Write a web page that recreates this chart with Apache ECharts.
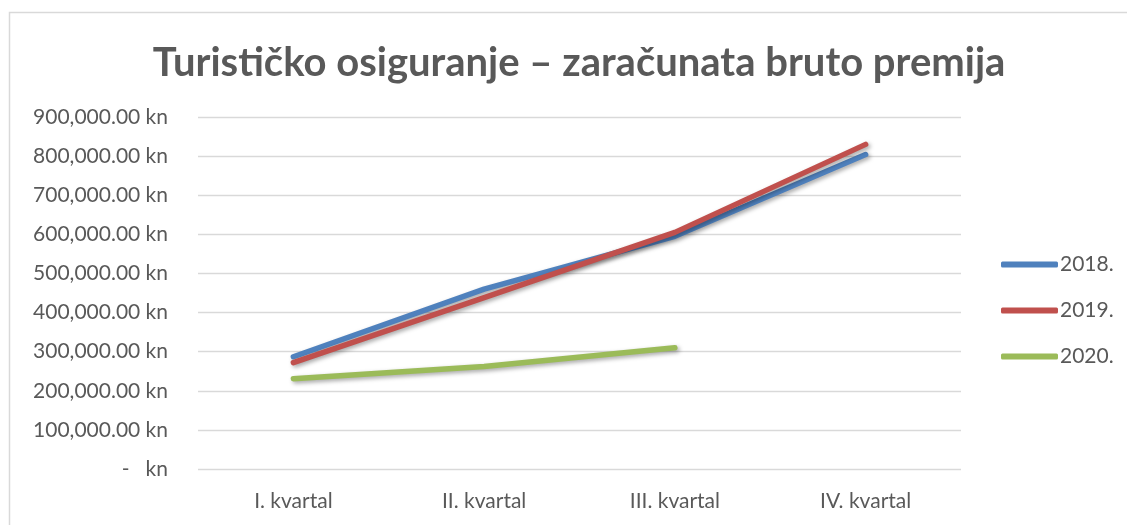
<!DOCTYPE html>
<html>
<head>
<meta charset="utf-8">
<script src="https://cdn.jsdelivr.net/npm/echarts@6/dist/echarts.min.js"></script>
<style>
    html, body { margin: 0; padding: 0; background: #fff; }
    #chart { width: 1127px; height: 525px; }
</style>
</head>
<body>
<div id="chart"></div>
<script>
// 数据
const categories = ['I. kvartal', 'II. kvartal', 'III. kvartal', 'IV. kvartal'];
const seriesNames = ['2018.', '2019.', '2020.'];
const values2018 = [287000, 460000, 595000, 804000];
const values2019 = [272000, 438000, 605000, 830000];
const values2020 = [231000, 262000, 310000];
const seriesColors = ['#4f81bd', '#c0504d', '#9bbb59'];

const textColor = '#595959';
const fontFamily = 'Lato, "Open Sans", sans-serif';

// 会计格式标签
function formatKn(value) {
    if (value === 0) return '-   kn';
    return value.toLocaleString('en-US', { minimumFractionDigits: 2, maximumFractionDigits: 2 }) + ' kn';
}

function makeSeries(name, data, color) {
    return {
        name: name,
        type: 'line',
        data: data,
        showSymbol: false,
        symbol: 'none',
        color: color,
        lineStyle: {
            width: 5.5,
            color: color,
            cap: 'round',
            join: 'round',
            shadowColor: 'rgba(0, 0, 0, 0.35)',
            shadowBlur: 4,
            shadowOffsetX: 2,
            shadowOffsetY: 2
        },
        emphasis: { disabled: true }
    };
}

const chart = echarts.init(document.getElementById('chart'));

const option = {
    animation: false,
    backgroundColor: '#fff',
    title: {
        text: 'Turističko osiguranje – zaračunata bruto premija',
        left: 574,
        textAlign: 'center',
        top: 38,
        textStyle: {
            color: textColor,
            fontSize: 40,
            fontWeight: 'bold',
            fontFamily: fontFamily
        }
    },
    legend: {
        orient: 'vertical',
        left: 996,
        top: 249,
        itemGap: 25,
        itemWidth: 57,
        itemHeight: 6,
        icon: 'roundRect',
        data: seriesNames,
        textStyle: {
            color: textColor,
            fontSize: 21,
            fontFamily: fontFamily,
            padding: [0, 0, 0, -3]
        }
    },
    grid: {
        left: 198,
        right: 166,
        top: 117,
        bottom: 56,
        containLabel: false
    },
    xAxis: {
        type: 'category',
        data: categories,
        boundaryGap: true,
        axisLine: { show: false },
        axisTick: { show: false },
        axisLabel: {
            color: textColor,
            fontSize: 21,
            fontFamily: fontFamily,
            margin: 22
        }
    },
    yAxis: {
        type: 'value',
        min: 0,
        max: 900000,
        interval: 100000,
        axisLine: { show: false },
        axisTick: { show: false },
        splitLine: { lineStyle: { color: '#d9d9d9', width: 1.3 } },
        axisLabel: {
            color: textColor,
            fontSize: 21,
            fontFamily: fontFamily,
            margin: 30,
            formatter: formatKn
        }
    },
    graphic: [{
        type: 'rect',
        shape: { x: 9.5, y: 12.5, width: 1140, height: 600 },
        style: { fill: 'none', stroke: '#d9d9d9', lineWidth: 1.5 },
        silent: true,
        z: -1
    }],
    series: [
        makeSeries(seriesNames[0], values2018, seriesColors[0]),
        makeSeries(seriesNames[1], values2019, seriesColors[1]),
        makeSeries(seriesNames[2], values2020, seriesColors[2])
    ]
};

chart.setOption(option);
</script>
</body>
</html>
